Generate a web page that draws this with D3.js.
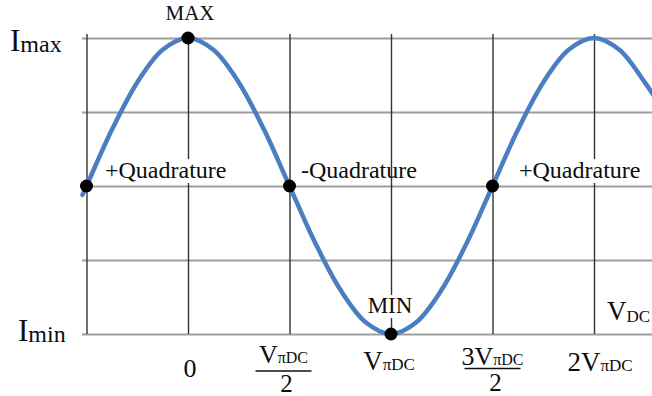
<!DOCTYPE html>
<html>
<head>
<meta charset="utf-8">
<script src="https://cdn.jsdelivr.net/npm/d3@7"></script>
<style>
  body { margin: 0; background: #fff; }
  text { font-family: "Liberation Serif", "Times New Roman", serif; fill: #0d0d0d; }
</style>
</head>
<body>
<div id="chart"></div>
<script>
// bias voltage in units of V_piDC, normalised intensity (0 = Imin, 1 = Imax)
const phase = [-0.52, -0.5, -0.375, -0.25, -0.125, 0, 0.125, 0.25, 0.375, 0.5, 0.625, 0.75, 0.875, 1,
  1.125, 1.25, 1.375, 1.5, 1.625, 1.75, 1.875, 2, 2.125, 2.25, 2.3]
const intensity = [0.47, 0.5, 0.69, 0.85, 0.96, 1, 0.96, 0.85, 0.69, 0.5, 0.31, 0.15, 0.04, 0,
  0.04, 0.15, 0.31, 0.5, 0.69, 0.85, 0.96, 1, 0.96, 0.85, 0.8]

const gridX = [-0.5, 0, 0.5, 1, 1.5, 2]
const gridY = [0, 0.25, 0.5, 0.75, 1]

// marked operating points
const pointPhase = [-0.5, 0, 0.5, 1, 1.5]
const pointIntensity = [0.5, 1, 0.5, 0, 0.5]

const width = 652
const height = 396

const svg = d3.select('#chart')
  .append('svg')
  .attr('width', width)
  .attr('height', height)

const x = d3.scaleLinear().domain([-0.5, 2]).range([86.5, 594])
const y = d3.scaleLinear().domain([0, 1]).range([334, 38])

// horizontal grid
const gy = svg.append('g')
  .attr('transform', 'translate(82,0)')
  .call(d3.axisLeft(y).tickValues(gridY).tickSize(-(width - 82)).tickFormat(''))
gy.select('.domain').remove()
gy.selectAll('line').attr('stroke', '#9d9d9d').attr('stroke-width', 2.2)

// vertical grid
const gx = svg.append('g')
  .attr('transform', 'translate(0,' + y(0) + ')')
  .call(d3.axisBottom(x).tickValues(gridX).tickSize(-(y(0) - 34)).tickFormat(''))
gx.select('.domain').remove()
gx.selectAll('line').attr('stroke', '#333').attr('stroke-width', 1.4)

const line = d3.line()
  .x((d, i) => x(phase[i]))
  .y(d => y(d))
  .curve(d3.curveCatmullRom)

svg.append('path')
  .datum(intensity)
  .attr('d', line)
  .attr('fill', 'none')
  .attr('stroke', '#4a7ec0')
  .attr('stroke-width', 4.5)
  .attr('stroke-linecap', 'round')

// labels with white box behind
function boxed(t) {
  const b = t.node().getBBox()
  svg.insert('rect', () => t.node())
    .attr('x', b.x - 1).attr('y', b.y + 2)
    .attr('width', b.width + 2).attr('height', b.height - 2)
    .attr('fill', '#fff')
}

boxed(svg.append('text').attr('x', 105).attr('y', 178).attr('font-size', 24).text('+Quadrature'))
svg.append('text').attr('x', 301).attr('y', 178).attr('font-size', 24).text('-Quadrature')
boxed(svg.append('text').attr('x', 519).attr('y', 178).attr('font-size', 24).text('+Quadrature'))
svg.append('text').attr('x', 190).attr('y', 20).attr('font-size', 21)
  .attr('text-anchor', 'middle').text('MAX')
boxed(svg.append('text').attr('x', 390).attr('y', 313).attr('font-size', 23)
  .attr('text-anchor', 'middle').text('MIN'))

svg.selectAll('circle')
  .data(pointPhase)
  .enter()
  .append('circle')
  .attr('cx', d => x(d))
  .attr('cy', (d, i) => y(pointIntensity[i]))
  .attr('r', 6.5)
  .attr('fill', '#000')

// y labels
function subLabel(px, py, big, small, bigSize, smallSize, drop) {
  const t = svg.append('text').attr('x', px).attr('y', py)
  t.append('tspan').attr('font-size', bigSize).text(big)
  t.append('tspan').attr('font-size', smallSize).attr('dy', drop).text(small)
  return t
}
subLabel(10, 51, 'I', 'max', 31, 24, 1)
subLabel(18, 341, 'I', 'min', 31, 24, 1)
subLabel(607, 320, 'V', 'DC', 27, 17, 2)

// x tick labels
svg.append('text').attr('x', x(0) + 2).attr('y', 377).attr('font-size', 26)
  .attr('text-anchor', 'middle').text('0')

function vpi(cx, by, prefix, big, small) {
  const t = svg.append('text').attr('x', cx).attr('y', by).attr('text-anchor', 'middle')
  t.append('tspan').attr('font-size', big).text(prefix + 'V')
  t.append('tspan').attr('font-size', small).text('πDC')
  return t
}

function frac(cx, by, prefix, barY, denY) {
  vpi(cx, by, prefix, 26, 16)
  svg.append('line')
    .attr('x1', cx - 28).attr('x2', cx + 28)
    .attr('y1', barY).attr('y2', barY)
    .attr('stroke', '#111').attr('stroke-width', 1.3)
  svg.append('text').attr('x', cx + 3).attr('y', denY).attr('font-size', 25)
    .attr('text-anchor', 'middle').text('2')
}

frac(x(0.5) - 6, 363, '', 371, 392)
vpi(x(1) - 2, 370, '', 27, 17)
frac(x(1.5), 365, '3', 368.5, 391)
vpi(x(2) + 6, 371, '2', 27, 17)
</script>
</body>
</html>
